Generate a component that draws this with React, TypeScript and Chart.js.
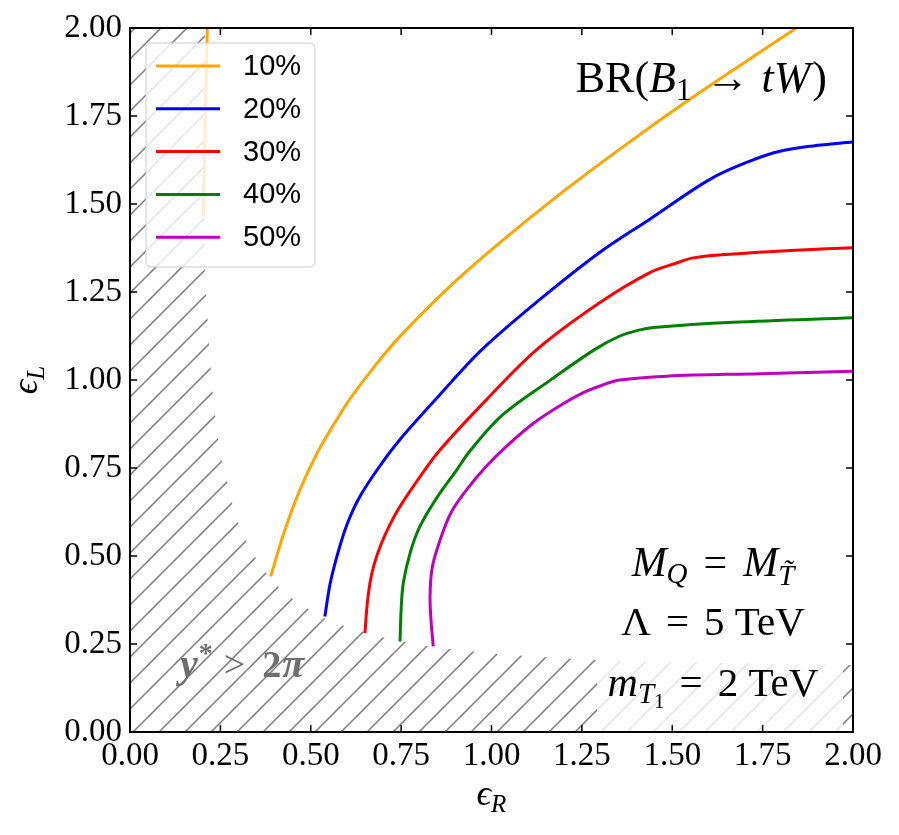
import React, { useEffect, useRef } from 'react';
import { Chart, registerables } from 'chart.js';

Chart.register(...registerables);

// contour labels and colours
const labels = ['10%', '20%', '30%', '40%', '50%'];
const colors = ['#FFA500', '#0000FF', '#FF0000', '#008000', '#BF00BF'];
const tickValues = [0, 0.25, 0.5, 0.75, 1, 1.25, 1.5, 1.75, 2];

// [epsilon_R, epsilon_L] points
const br10 = [
	[0.389, 0.442], [0.429, 0.575], [0.47, 0.688], [0.52, 0.797], [0.567, 0.879],
	[0.609, 0.947], [0.678, 1.041], [0.747, 1.124], [0.885, 1.266], [1.024, 1.391],
	[1.189, 1.528], [1.355, 1.656], [1.549, 1.798], [1.701, 1.903], [1.848, 2.003],
];
const br10Upper = [[0.203, 1.465], [0.207, 1.7], [0.214, 2.0]];
const br20 = [
	[0.539, 0.328], [0.553, 0.418], [0.573, 0.501], [0.6, 0.589], [0.636, 0.669],
	[0.692, 0.757], [0.747, 0.831], [0.858, 0.959], [0.974, 1.087], [1.134, 1.229],
	[1.3, 1.363], [1.438, 1.457], [1.604, 1.57], [1.715, 1.622], [1.798, 1.65],
	[1.889, 1.665], [2.0, 1.676],
];
const br30 = [
	[0.65, 0.281], [0.656, 0.361], [0.664, 0.424], [0.675, 0.475], [0.694, 0.532],
	[0.719, 0.589], [0.747, 0.641], [0.802, 0.725], [0.858, 0.802], [0.987, 0.945],
	[1.126, 1.087], [1.3, 1.22], [1.438, 1.305], [1.508, 1.331], [1.558, 1.347],
	[1.669, 1.358], [1.826, 1.368], [2.0, 1.376],
];
const br40 = [
	[0.747, 0.257], [0.75, 0.347], [0.756, 0.423], [0.775, 0.509], [0.802, 0.584],
	[0.849, 0.666], [0.904, 0.745], [0.943, 0.802], [1.032, 0.902], [1.162, 0.999],
	[1.286, 1.087], [1.355, 1.125], [1.405, 1.141], [1.448, 1.149], [1.668, 1.164],
	[2.0, 1.177],
];
const br50 = [
	[0.839, 0.243], [0.833, 0.313], [0.83, 0.385], [0.836, 0.467], [0.858, 0.546],
	[0.888, 0.623], [0.931, 0.688], [0.982, 0.751], [1.042, 0.812], [1.116, 0.877],
	[1.189, 0.927], [1.254, 0.964], [1.3, 0.983], [1.355, 1.0], [1.485, 1.011],
	[1.743, 1.018], [2.0, 1.025],
];
// y* > 2pi excluded region outline
const excluded = [
	[0, 0], [0, 2], [0.207, 2], [0.207, 1.28], [0.213, 1.2], [0.221, 1.058],
	[0.232, 0.925], [0.249, 0.794], [0.263, 0.731], [0.277, 0.669], [0.293, 0.612],
	[0.313, 0.56], [0.337, 0.512], [0.365, 0.467], [0.396, 0.427], [0.434, 0.39],
	[0.475, 0.361], [0.521, 0.333], [0.562, 0.309], [0.617, 0.296], [0.678, 0.273],
	[0.738, 0.262], [0.798, 0.248], [0.862, 0.238], [0.922, 0.233], [0.987, 0.224],
	[1.056, 0.219], [1.26, 0.205], [1.5, 0.198], [2, 0.19], [2, 0],
];

const SERIF = '"Liberation Serif", "DejaVu Serif", serif';
const SANS = '"Liberation Sans", Arial, sans-serif';

type Run = { t: string; f: string; dy?: number; padL?: number; padR?: number };

const drawRuns = (ctx: CanvasRenderingContext2D, runs: Run[], x: number, y: number, align: string) => {
	let w = 0;
	for (const r of runs) {
		ctx.font = r.f;
		w += ctx.measureText(r.t).width + (r.padL || 0) + (r.padR || 0);
	}
	let cx = align === 'left' ? x : align === 'center' ? x - w / 2 : x - w;
	ctx.textAlign = 'left';
	ctx.textBaseline = 'alphabetic';
	for (const r of runs) {
		ctx.font = r.f;
		cx += r.padL || 0;
		ctx.fillText(r.t, cx, y + (r.dy || 0));
		cx += ctx.measureText(r.t).width + (r.padR || 0);
	}
};

const toXY = (pts: number[][]) => pts.map(([x, y]) => ({ x, y }));

const decorations = {
	id: 'decorations',
	afterDatasetsDraw(chart: any) {
		const { ctx, chartArea: ca, scales } = chart;
		ctx.save();

		// translucent box behind the parameter text
		ctx.fillStyle = 'rgba(255,255,255,0.8)';
		ctx.fillRect(ca.right - 256, ca.bottom - 190, 246, 190);

		const rm = (s: number) => `${s}px ${SERIF}`;
		const it = (s: number) => `italic ${s}px ${SERIF}`;
		ctx.fillStyle = '#000';

		drawRuns(ctx, [
			{ t: 'BR(', f: rm(44) },
			{ t: 'B', f: it(44) },
			{ t: '1', f: rm(31), dy: 8, padR: 2 },
			{ t: '\u2192', f: rm(44), padL: 12, padR: 12 },
			{ t: 'tW', f: it(44) },
			{ t: ')', f: rm(44), padL: 2 },
		], ca.right - 26, ca.top + 64, 'right');

		const cx = ca.right - 140;
		drawRuns(ctx, [
			{ t: 'M', f: it(42) },
			{ t: 'Q', f: it(29), dy: 7 },
			{ t: '=', f: rm(42), padL: 16, padR: 16 },
			{ t: 'M', f: it(42) },
			{ t: 'T\u0303', f: it(29), dy: 9 },
		], cx, ca.bottom - 156, 'center');
		drawRuns(ctx, [
			{ t: '\u039B', f: rm(41) },
			{ t: '=', f: rm(41), padL: 15, padR: 15 },
			{ t: '5 TeV', f: rm(41) },
		], cx, ca.bottom - 97, 'center');
		drawRuns(ctx, [
			{ t: 'm', f: it(42) },
			{ t: 'T', f: it(29), dy: 7 },
			{ t: '1', f: rm(21), dy: 12 },
			{ t: '=', f: rm(41), padL: 15, padR: 15 },
			{ t: '2 TeV', f: rm(41) },
		], cx, ca.bottom - 36, 'center');

		// region label
		ctx.fillStyle = '#6e6e6e';
		drawRuns(ctx, [
			{ t: 'y', f: `italic bold 40px ${SERIF}`, padR: 1 },
			{ t: '*', f: `bold 28px ${SERIF}`, dy: -15 },
			{ t: '>', f: `38px ${SERIF}`, padL: 11, padR: 17 },
			{ t: '2', f: `bold 38px ${SERIF}`, padR: 1 },
			{ t: '\u03C0', f: `italic bold 40px ${SERIF}` },
		], ca.left + 50, ca.bottom - 55, 'left');

		// legend
		const lx = ca.left + 16;
		const ly = ca.top + 15;
		ctx.fillStyle = 'rgba(255,255,255,0.8)';
		ctx.strokeStyle = '#cccccc';
		ctx.lineWidth = 1;
		ctx.beginPath();
		ctx.roundRect(lx, ly, 169, 224, 5);
		ctx.fill();
		ctx.stroke();
		labels.forEach((lab, i) => {
			const yy = ly + 23 + i * 42.8;
			ctx.strokeStyle = colors[i];
			ctx.lineWidth = 3;
			ctx.beginPath();
			ctx.moveTo(lx + 10, yy);
			ctx.lineTo(lx + 74, yy);
			ctx.stroke();
			ctx.fillStyle = '#000';
			ctx.font = `29px ${SANS}`;
			ctx.textAlign = 'left';
			ctx.textBaseline = 'middle';
			ctx.fillText(lab, lx + 97, yy + 1);
		});

		// axis titles
		ctx.fillStyle = '#000';
		drawRuns(ctx, [
			{ t: '\u03F5', f: it(36) },
			{ t: 'R', f: it(25), dy: 7 },
		], (ca.left + ca.right) / 2, ca.bottom + 73, 'center');
		ctx.translate(ca.left - 93, (ca.top + ca.bottom) / 2);
		ctx.rotate(-Math.PI / 2);
		drawRuns(ctx, [
			{ t: '\u03F5', f: it(36) },
			{ t: 'L', f: it(25), dy: 7 },
		], 0, 0, 'center');
		ctx.restore();

		// frame and inward ticks on every side
		ctx.save();
		ctx.strokeStyle = '#000';
		ctx.lineWidth = 1.5;
		ctx.beginPath();
		for (const t of scales.x.ticks) {
			const px = scales.x.getPixelForValue(t.value);
			ctx.moveTo(px, ca.bottom);
			ctx.lineTo(px, ca.bottom - 7);
			ctx.moveTo(px, ca.top);
			ctx.lineTo(px, ca.top + 7);
		}
		for (const t of scales.y.ticks) {
			const py = scales.y.getPixelForValue(t.value);
			ctx.moveTo(ca.left, py);
			ctx.lineTo(ca.left + 7, py);
			ctx.moveTo(ca.right, py);
			ctx.lineTo(ca.right - 7, py);
		}
		ctx.stroke();
		ctx.lineWidth = 2;
		ctx.strokeRect(ca.left, ca.top, ca.right - ca.left, ca.bottom - ca.top);
		ctx.restore();
	},
};

const App: React.FC = () => {
	const canvasRef = useRef<HTMLCanvasElement>(null);
	const chartRef = useRef<Chart | null>(null);

	useEffect(() => {
		if (!canvasRef.current) return;
		if (chartRef.current) chartRef.current.destroy();

		// '/' hatch tile
		const tile = document.createElement('canvas');
		tile.width = 26;
		tile.height = 26;
		const g = tile.getContext('2d')!;
		g.strokeStyle = '#7a7a7a';
		g.lineWidth = 1.5;
		for (let k = -1; k <= 2; k++) {
			const c = 17 + 26 * k;
			g.beginPath();
			g.moveTo(-4, c + 4);
			g.lineTo(30, c - 30);
			g.stroke();
		}
		const pattern = canvasRef.current.getContext('2d')!.createPattern(tile, 'repeat');

		const curves = [br10, br20, br30, br40, br50];

		chartRef.current = new Chart(canvasRef.current, {
			type: 'scatter',
			data: {
				datasets: [
					...curves.map((c, i) => ({
						label: labels[i],
						data: toXY(c),
						borderColor: colors[i],
						backgroundColor: colors[i],
						borderWidth: 3,
						pointRadius: 0,
						showLine: true,
						fill: false,
						tension: 0.35,
					})),
					{
						label: '10% upper',
						data: toXY(br10Upper),
						borderColor: colors[0],
						borderWidth: 3,
						pointRadius: 0,
						showLine: true,
						fill: false,
					},
					{
						label: 'excluded',
						data: toXY(excluded),
						borderColor: 'rgba(0,0,0,0)',
						backgroundColor: pattern as any,
						borderWidth: 0,
						pointRadius: 0,
						showLine: true,
						fill: 'shape',
						tension: 0,
					},
				],
			},
			options: {
				animation: false,
				responsive: true,
				maintainAspectRatio: false,
				layout: { padding: { left: 0, top: 20, right: 38, bottom: 0 } },
				plugins: {
					legend: { display: false },
					tooltip: { enabled: false },
				},
				scales: {
					x: {
						type: 'linear',
						min: 0,
						max: 2,
						afterFit: (s: any) => { s.height = 95; },
						afterBuildTicks: (s: any) => { s.ticks = tickValues.map((v) => ({ value: v })); },
						ticks: {
							callback: (v: any) => Number(v).toFixed(2),
							font: { family: SERIF, size: 33, lineHeight: 1 },
							color: '#000',
							padding: 8,
							maxRotation: 0,
							autoSkip: false,
						},
						grid: { display: false, drawTicks: false },
						border: { display: false },
					},
					y: {
						type: 'linear',
						min: 0,
						max: 2,
						afterFit: (s: any) => { s.width = 122; },
						afterBuildTicks: (s: any) => { s.ticks = tickValues.map((v) => ({ value: v })); },
						ticks: {
							callback: (v: any) => Number(v).toFixed(2),
							font: { family: SERIF, size: 33, lineHeight: 0.7 },
							color: '#000',
							padding: 8,
							autoSkip: false,
						},
						grid: { display: false, drawTicks: false },
						border: { display: false },
					},
				},
			},
			plugins: [decorations],
		});

		return () => {
			if (chartRef.current) {
				chartRef.current.destroy();
				chartRef.current = null;
			}
		};
	}, []);

	return (
		<div style={{ width: 883, height: 819, position: 'relative' }}>
			<canvas ref={canvasRef} />
		</div>
	);
};

export default App;
